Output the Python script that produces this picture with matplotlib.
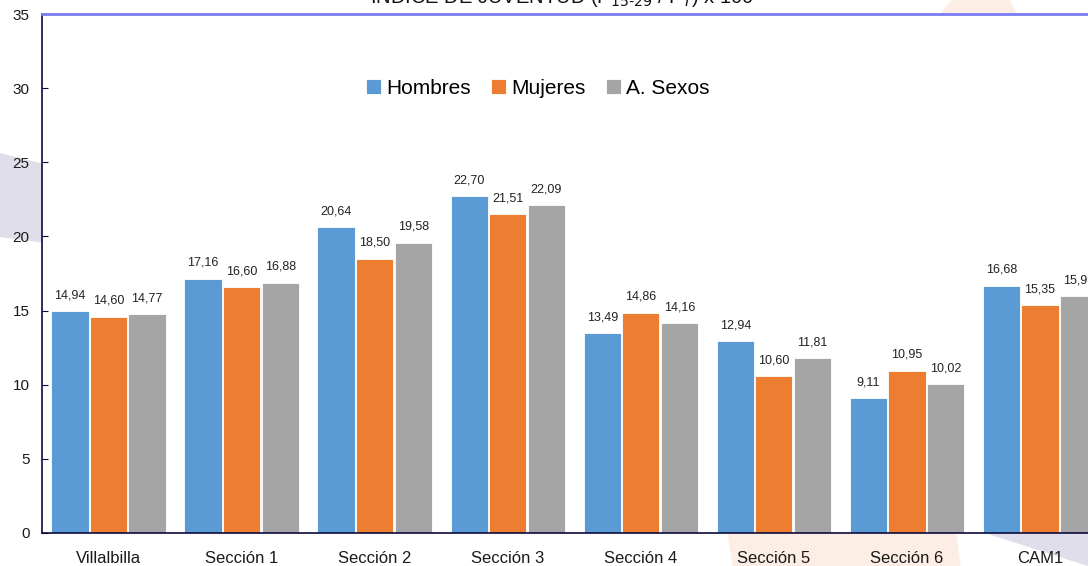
import matplotlib
matplotlib.use("Agg")
import matplotlib.pyplot as plt
from matplotlib.patches import Polygon
import numpy as np

categories = ["Villalbilla", "Sección 1", "Sección 2", "Sección 3", "Sección 4",
              "Sección 5", "Sección 6", "CAM1"]
hombres = [14.94, 17.16, 20.64, 22.70, 13.49, 12.94, 9.11, 16.68]
mujeres = [14.60, 16.60, 18.50, 21.51, 14.86, 10.60, 10.95, 15.35]
ambos = [14.77, 16.88, 19.58, 22.09, 14.16, 11.81, 10.02, 15.99]
series_names = ["Hombres", "Mujeres", "A. Sexos"]
colors = ["#5B9BD5", "#ED7D31", "#A5A5A5"]
yticks = [0, 5, 10, 15, 20, 25, 30, 35]

plt.rcParams['font.family'] = ['Liberation Sans', 'DejaVu Sans']

W, H = 1088, 566
fig = plt.figure(figsize=(W / 100, H / 100), dpi=100)

def px(x, y):
    return (x / W, 1 - y / H)

# decorative background shapes
purple = "#E1DEEC"
orange = "#FDEEE5"
shapes = [
    ([px(0, 153), px(60, 168), px(60, 245), px(0, 237)], purple),
    ([px(960, -10), px(1005, -10), px(1020, 20), px(935, 20)], orange),
    ([px(727, 530), px(956, 530), px(961, 570), px(733, 570)], orange),
    ([px(985, 533), px(1100, 533), px(1100, 570)], purple),
]
for pts, col in shapes:
    fig.patches.append(Polygon(pts, closed=True, transform=fig.transFigure,
                               facecolor=col, edgecolor='none', zorder=-5))

left, right, top, bottom = 42, 1106.5, 14, 533
ax = fig.add_axes([left / W, 1 - bottom / H, (right - left) / W, (bottom - top) / H])
ax.set_zorder(1)
ax.set_facecolor("white")

x = np.arange(len(categories))
width = 0.28
offset = 0.29
all_series = [hombres, mujeres, ambos]
for i, (vals, name, c) in enumerate(zip(all_series, series_names, colors)):
    pos = x + (i - 1) * offset
    ax.bar(pos, vals, width, color=c, label=name, edgecolor='white',
           linewidth=0.6, zorder=2)
    for xp, v in zip(pos, vals):
        ax.annotate(f"{v:.2f}".replace(".", ","), (xp, v), xytext=(0, 7),
                    textcoords='offset points', ha='center', va='bottom',
                    fontsize=9, color='#222222')

ax.set_xlim(-0.5, len(categories) - 0.5)
ax.set_ylim(0, 35)
ax.set_yticks(yticks)
ax.set_xticks(x)
ax.set_xticklabels(categories, fontsize=12)
ax.tick_params(axis='x', length=0, pad=13)
ax.tick_params(axis='y', direction='in', length=4, labelsize=11, pad=9,
               color='#0B0B3B')
for lbl in ax.get_yticklabels() + ax.get_xticklabels():
    lbl.set_color('#1a1a1a')

for s in ['left', 'bottom']:
    ax.spines[s].set_color('#0B0B3B')
    ax.spines[s].set_linewidth(1.2)
ax.spines['top'].set_color('#7B7BF2')
ax.spines['top'].set_linewidth(2)
ax.spines['right'].set_visible(False)

ax.legend(loc='upper center',
          bbox_to_anchor=((538 - left) / (right - left), 1 - 65 / (bottom - top)),
          ncol=3, frameon=False, fontsize=15, handlelength=0.7, handleheight=0.7,
          handletextpad=0.25, columnspacing=1.0, borderaxespad=0, borderpad=0)

fig.text(562 / W, 1 - 3 / H, "ÍNDICE DE JUVENTUD (P$_{15\\text{-}29}$ / P$_{T}$) x 100",
         ha='center', va='baseline', fontsize=14.5, color='#111111')

fig.savefig("out.png", dpi=100)
